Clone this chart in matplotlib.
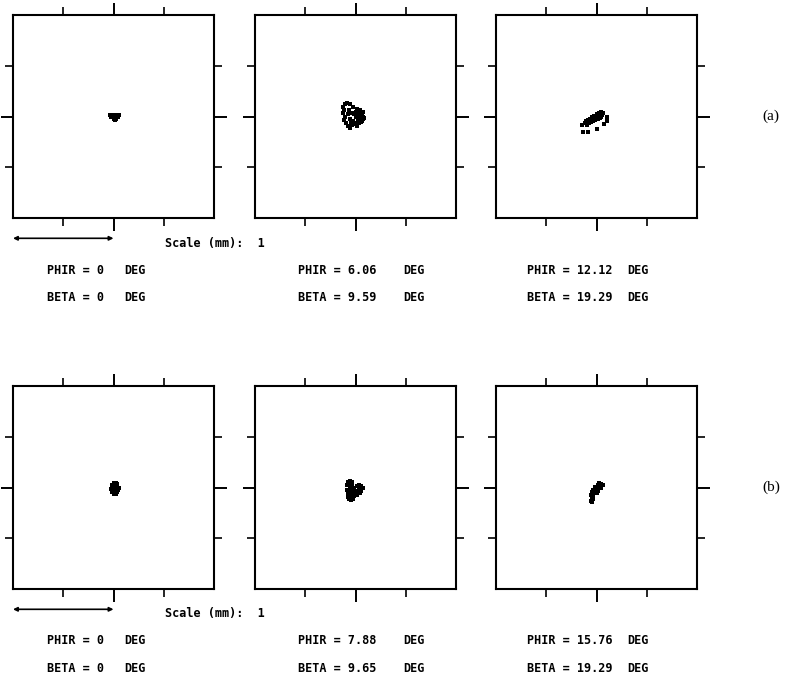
import matplotlib.pyplot as plt
import numpy as np

# Werte der Winkel pro Spalte
phir_a = ['0', '6.06', '12.12']
beta_a = ['0', '9.59', '19.29']
phir_b = ['0', '7.88', '15.76']
beta_b = ['0', '9.65', '19.29']

# Spot-Diagramme (x, y in mm)
spot_a1_x = [-0.03, -0.01, 0.01, 0.03, 0.05, -0.02, 0.0, 0.02, 0.04, 0.0, 0.02, 0.01]
spot_a1_y = [0.015, 0.015, 0.015, 0.015, 0.015, -0.005, -0.005, -0.005, -0.005, -0.025, -0.025, -0.035]

spot_a2_x = [-0.10, -0.12, -0.11, -0.12, -0.10, -0.11, -0.09, -0.07, -0.05,
             -0.08, -0.05, -0.02, 0.01, 0.04, 0.07,
             -0.06, -0.07, -0.05, -0.03, 0.0, 0.02, 0.05, 0.07, 0.08, 0.0,
             -0.02, 0.02, 0.05, 0.03, 0.0, -0.03, 0.01, -0.04, 0.04, 0.06,
             0.01, 0.03, 0.06, -0.01, 0.02, 0.04, -0.01, 0.03, 0.05, 0.07]
spot_a2_y = [0.12, 0.09, 0.06, 0.03, 0.0, -0.03, -0.06, -0.09, -0.11,
             0.13, 0.12, 0.09, 0.07, 0.06, 0.04,
             0.06, 0.02, -0.02, 0.03, 0.04, 0.02, 0.02, 0.0, -0.01, 0.0,
             -0.04, -0.03, -0.03, -0.06, -0.07, -0.08, -0.09, -0.05, -0.01, -0.04,
             0.05, 0.04, 0.03, 0.02, 0.0, 0.0, -0.06, -0.01, -0.05, -0.02]

spot_a3_x = [-0.148, -0.138, -0.085, 0.005, 0.075, 0.105, 0.10,
             -0.115, -0.095, -0.075, -0.055, -0.035, -0.015, 0.005, 0.025, 0.045, 0.065,
             -0.10, -0.08, -0.06, -0.04, -0.02, 0.0, 0.02, 0.04, 0.05,
             -0.09, -0.07, -0.05, -0.03, -0.01, 0.01, 0.03, 0.045]
spot_a3_y = [-0.085, -0.152, -0.152, -0.125, -0.075, -0.005, -0.042,
             -0.065, -0.055, -0.045, -0.035, -0.02, -0.01, 0.0, 0.015, 0.025, 0.035,
             -0.045, -0.03, -0.02, -0.005, 0.005, 0.02, 0.03, 0.04, 0.01,
             -0.08, -0.065, -0.055, -0.045, -0.035, -0.02, -0.01, -0.005]

spot_b1_x = [0.0, 0.02, 0.03, -0.01, 0.01, 0.03, 0.05, -0.02, 0.0, 0.02, 0.04, -0.01, 0.01, 0.03, 0.0, 0.02]
spot_b1_y = [0.045, 0.045, 0.03, 0.02, 0.02, 0.02, 0.0, -0.01, -0.01, -0.01, -0.02, -0.04, -0.04, -0.04, -0.065, -0.065]

spot_b2_x = [-0.07, -0.05, -0.03, -0.04, -0.06,
             -0.08, -0.08, -0.07, -0.07, -0.06,
             -0.05, -0.03, -0.01, 0.01, 0.03, 0.05, 0.07,
             -0.05, -0.03, -0.01, 0.01, 0.03, 0.05,
             -0.04, -0.02, 0.0, 0.02, 0.04, -0.03, -0.01, 0.01, -0.02, -0.04]
spot_b2_y = [0.055, 0.06, 0.05, 0.03, 0.04,
             0.02, -0.02, -0.06, -0.09, -0.11,
             0.0, 0.01, 0.0, 0.01, 0.02, 0.01, 0.0,
             -0.02, -0.03, -0.02, -0.03, -0.02, -0.03,
             -0.05, -0.05, -0.06, -0.05, -0.05, -0.08, -0.08, -0.07, -0.11, -0.12]

spot_b3_x = [0.025, 0.045, 0.065, 0.01, 0.03, -0.015, 0.005, 0.025, 0.045,
             -0.03, -0.01, 0.01, -0.04, -0.02, 0.0, -0.05, -0.03, -0.045, -0.03, -0.05, -0.04]
spot_b3_y = [0.045, 0.035, 0.025, 0.02, 0.01, 0.005, 0.0, -0.005, 0.0,
             -0.02, -0.025, -0.03, -0.045, -0.05, -0.055, -0.07, -0.08, -0.1, -0.11, -0.13, -0.145]

spots = [[(spot_a1_x, spot_a1_y), (spot_a2_x, spot_a2_y), (spot_a3_x, spot_a3_y)],
         [(spot_b1_x, spot_b1_y), (spot_b2_x, spot_b2_y), (spot_b3_x, spot_b3_y)]]
phir = [phir_a, phir_b]
beta = [beta_a, beta_b]
tags = ['(a)', '(b)']

W, H = 806, 682
fig = plt.figure(figsize=(W / 100, H / 100), dpi=100)
font = dict(family='DejaVu Sans Mono', fontsize=8.5, fontweight='bold', color='black')

# Pixel-Positionen der Kaesten
box_x = [13, 255, 496]
box_w = 201
row_top = [15, 386]
box_h = 203
text_dy = [25, 52, 79]          # Abstand unter dem Kasten
txt_phir_x = [47, 298, 527]
txt_deg_x = [124, 403, 627]

for r in range(2):
    for c in range(3):
        ax = fig.add_axes([box_x[c] / W, 1 - (row_top[r] + box_h) / H, box_w / W, box_h / H])
        sx, sy = spots[r][c]
        ax.scatter(sx, sy, s=9, marker='s', color='black', linewidths=0)
        ax.set_xlim(-1, 1)
        ax.set_ylim(-1, 1)
        ax.set_xticks([0])
        ax.set_yticks([0])
        ax.set_xticks([-0.5, 0.5], minor=True)
        ax.set_yticks([-0.5, 0.5], minor=True)
        ax.set_xticklabels([])
        ax.set_yticklabels([])
        ax.tick_params(which='major', direction='out', length=9, width=1.4,
                       top=True, right=True, labelbottom=False, labelleft=False)
        ax.tick_params(which='minor', direction='out', length=6, width=1.2,
                       top=True, right=True)
        for sp in ax.spines.values():
            sp.set_linewidth(1.5)

        if c == 0:
            # Massstab-Pfeil 1 mm
            ax.annotate('', xy=(0, -0.1), xytext=(-1, -0.1),
                        xycoords=('data', 'axes fraction'),
                        arrowprops=dict(arrowstyle='<|-|>', lw=1.2, color='black',
                                        mutation_scale=6, shrinkA=0, shrinkB=0),
                        annotation_clip=False)

        ybase = row_top[r] + box_h
        fig.text(txt_phir_x[c] / W, 1 - (ybase + text_dy[1]) / H,
                 'PHIR = ' + phir[r][c], va='center', ha='left', **font)
        fig.text(txt_deg_x[c] / W, 1 - (ybase + text_dy[1]) / H,
                 'DEG', va='center', ha='left', **font)
        fig.text(txt_phir_x[c] / W, 1 - (ybase + text_dy[2]) / H,
                 'BETA = ' + beta[r][c], va='center', ha='left', **font)
        fig.text(txt_deg_x[c] / W, 1 - (ybase + text_dy[2]) / H,
                 'DEG', va='center', ha='left', **font)

    ybase = row_top[r] + box_h
    fig.text(165 / W, 1 - (ybase + text_dy[0]) / H, 'Scale (mm):  1',
             va='center', ha='left', **font)
    fig.text(762 / W, 1 - (row_top[r] + box_h / 2) / H, tags[r],
             va='center', ha='left', family='Liberation Serif', fontsize=11)

fig.savefig('out.png', dpi=100)
